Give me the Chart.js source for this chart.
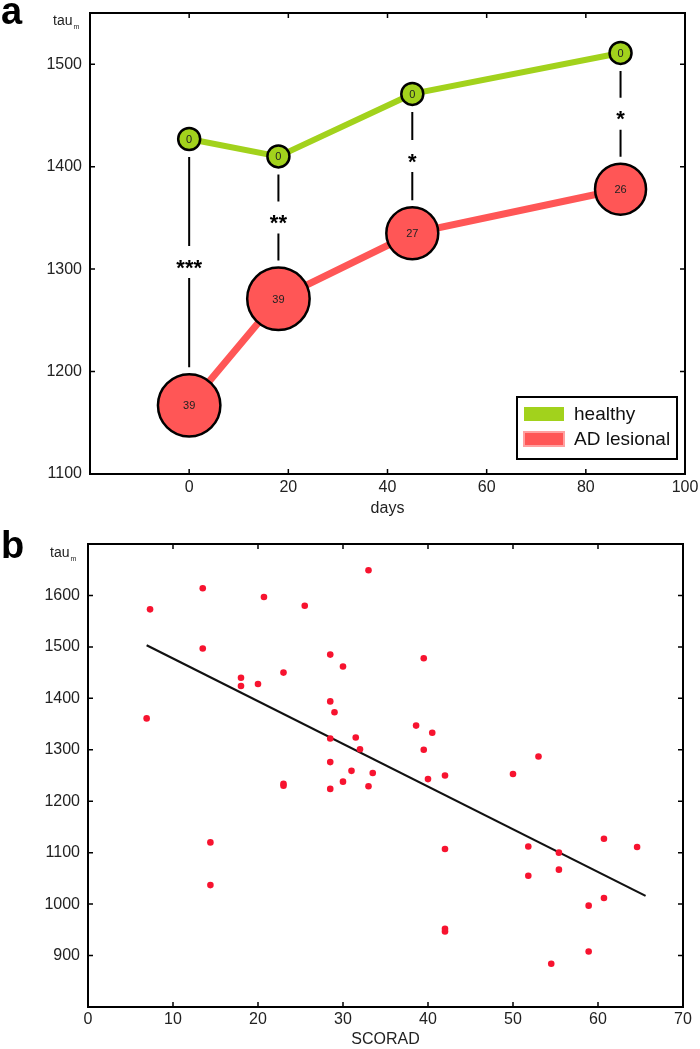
<!DOCTYPE html>
<html>
<head>
<meta charset="utf-8">
<script src="https://cdn.jsdelivr.net/npm/chart.js@4/dist/chart.umd.min.js"></script>
<style>
  body { margin: 0; background: #fff; width: 700px; height: 1049px; position: relative; overflow: hidden; }
  canvas { position: absolute; left: 0; }
  #chartA { top: 0; }
  #chartB { top: 520px; }
</style>
</head>
<body>
<canvas id="chartA" width="700" height="525"></canvas>
<canvas id="chartB" width="700" height="529"></canvas>
<script>
// panel a data
const days = [0, 18, 45, 87];
const healthyTau = [1427, 1410, 1471, 1511];
const lesionalTau = [1167, 1271, 1335, 1378];
const healthyN = [0, 0, 0, 0];
const lesionalN = [39, 39, 27, 26];
const stars = ['***', '**', '*', '*'];
const dayTicks = [0, 20, 40, 60, 80, 100];
const tauTicksA = [1100, 1200, 1300, 1400, 1500];

// panel b data
const scorad = [7.3, 13.5, 20.7, 25.5, 13.5, 28.5, 30, 18, 18, 20, 23, 28.5, 29, 6.9, 28.5, 28.5, 31,
  33, 39.5, 38.6, 40.5, 31.5, 32, 39.5, 53, 33.5, 40, 42, 50, 23, 23, 28.5, 30, 14.4, 14.4, 33,
  42, 51.8, 60.7, 64.6, 55.4, 55.4, 51.8, 60.7, 58.9, 42, 42, 58.9, 54.5];
const tauB = [1573, 1614, 1597, 1580, 1497, 1485, 1462, 1440, 1424, 1428, 1450, 1394, 1373, 1361, 1322, 1276, 1259,
  1649, 1478, 1347, 1333, 1324, 1301, 1300, 1287, 1255, 1243, 1250, 1253, 1234, 1230, 1224, 1238, 1120, 1037, 1229,
  1107, 1112, 1127, 1111, 1100, 1067, 1055, 1012, 997, 952, 947, 908, 884];
const fitX = [6.9, 65.6];
const fitY = [1503, 1016];
const scoradTicks = [0, 10, 20, 30, 40, 50, 60, 70];
const tauTicksB = [900, 1000, 1100, 1200, 1300, 1400, 1500, 1600];

const FONT = '"Liberation Sans", Arial, Helvetica, sans-serif';
const GREEN = '#a2d21c';
const RED = '#ff5656';
const DOT = '#f7132f';

function setTicks(list) {
    return function(scale) {
        scale.ticks = list.map(v => ({ value: v }));
    };
}

// fix an axis box size and drop the label overflow padding
function fixSize(prop, size) {
    return function(scale) {
        scale[prop] = size;
        scale.paddingTop = 0;
        scale.paddingBottom = 0;
        scale.paddingLeft = 0;
        scale.paddingRight = 0;
    };
}

// frame round the plot area with inward tick marks
const framePlugin = {
    id: 'frame',
    afterDraw(chart) {
        const { ctx, chartArea: a, scales } = chart;
        const x = scales.x, y = scales.y;
        ctx.save();
        ctx.strokeStyle = '#000';
        ctx.lineWidth = 2;
        ctx.strokeRect(a.left, a.top, a.right - a.left, a.bottom - a.top);
        ctx.lineWidth = 1.5;
        ctx.beginPath();
        x.ticks.forEach(t => {
            const px = x.getPixelForValue(t.value);
            if (px <= a.left + 1 || px >= a.right - 1) return;
            ctx.moveTo(px, a.bottom); ctx.lineTo(px, a.bottom - 5);
            ctx.moveTo(px, a.top); ctx.lineTo(px, a.top + 5);
        });
        y.ticks.forEach(t => {
            const py = y.getPixelForValue(t.value);
            if (py <= a.top + 1 || py >= a.bottom - 1) return;
            ctx.moveTo(a.left, py); ctx.lineTo(a.left + 5, py);
            ctx.moveTo(a.right, py); ctx.lineTo(a.right - 5, py);
        });
        ctx.stroke();
        ctx.restore();
    }
};

// panel letter and the tau_m axis label
const panelTextPlugin = {
    id: 'panelText',
    afterDraw(chart, args, opts) {
        const ctx = chart.ctx;
        ctx.save();
        ctx.fillStyle = '#000';
        ctx.textBaseline = 'alphabetic';
        ctx.font = 'bold 38px ' + FONT;
        ctx.fillText(opts.letter, 1, opts.letterY);
        ctx.fillStyle = '#222';
        ctx.font = '14px ' + FONT;
        ctx.fillText('tau', opts.tauX, opts.tauY);
        const w = ctx.measureText('tau').width;
        ctx.font = '7px ' + FONT;
        ctx.fillText('m', opts.tauX + w + 1, opts.tauY + 4);
        ctx.restore();
    }
};

// significance bars, circle counts and legend for panel a
const annotatePlugin = {
    id: 'annotate',
    afterDatasetsDraw(chart) {
        const { ctx, scales: { x, y } } = chart;
        const hMeta = chart.getDatasetMeta(0);
        const lMeta = chart.getDatasetMeta(1);
        ctx.save();
        days.forEach((d, i) => {
            const px = x.getPixelForValue(d);
            const top = y.getPixelForValue(healthyTau[i]) + hMeta.data[i].options.radius + 7;
            const bot = y.getPixelForValue(lesionalTau[i]) - lMeta.data[i].options.radius - 7;
            const mid = (top + bot) / 2;
            ctx.strokeStyle = '#000';
            ctx.lineWidth = 2;
            ctx.beginPath();
            ctx.moveTo(px, top); ctx.lineTo(px, mid - 16);
            ctx.moveTo(px, mid + 16); ctx.lineTo(px, bot);
            ctx.stroke();
            ctx.fillStyle = '#000';
            ctx.font = 'bold 22px ' + FONT;
            ctx.textAlign = 'center';
            ctx.textBaseline = 'alphabetic';
            ctx.fillText(stars[i], px, mid + 12.5);
        });
        ctx.font = '11px ' + FONT;
        ctx.fillStyle = '#222';
        ctx.textAlign = 'center';
        ctx.textBaseline = 'middle';
        hMeta.data.forEach((p, i) => ctx.fillText(String(healthyN[i]), p.x, p.y + 1));
        lMeta.data.forEach((p, i) => ctx.fillText(String(lesionalN[i]), p.x, p.y + 1));
        ctx.restore();
    },
    afterDraw(chart) {
        const { ctx, chartArea: a } = chart;
        const bx = a.right - 168, by = a.bottom - 77;
        ctx.save();
        ctx.fillStyle = '#fff';
        ctx.fillRect(bx, by, 160, 62);
        ctx.strokeStyle = '#000';
        ctx.lineWidth = 2;
        ctx.strokeRect(bx, by, 160, 62);
        chart.data.datasets.forEach((ds, i) => {
            const sy = by + 10 + i * 25;
            ctx.fillStyle = ds.borderColor;
            ctx.fillRect(bx + 7, sy, 40, 14);
            if (i === 1) {
                ctx.strokeStyle = '#ffa0a0';
                ctx.lineWidth = 2;
                ctx.strokeRect(bx + 7, sy, 40, 14);
            }
            ctx.fillStyle = '#111';
            ctx.font = '19px ' + FONT;
            ctx.textBaseline = 'alphabetic';
            ctx.fillText(ds.label, bx + 57, sy + 13);
        });
        ctx.restore();
    }
};

const tickFont = { family: FONT, size: 16 };
const plain = v => String(v);

new Chart(document.getElementById('chartA'), {
    type: 'line',
    data: {
        datasets: [
            {
                label: 'healthy',
                data: days.map((d, i) => ({ x: d, y: healthyTau[i] })),
                borderColor: GREEN,
                backgroundColor: GREEN,
                borderWidth: 6,
                pointRadius: 11,
                pointBackgroundColor: GREEN,
                pointBorderColor: '#000',
                pointBorderWidth: 2.5
            },
            {
                label: 'AD lesional',
                data: days.map((d, i) => ({ x: d, y: lesionalTau[i] })),
                borderColor: RED,
                backgroundColor: RED,
                borderWidth: 7,
                pointRadius: ctx => 5 * Math.sqrt(lesionalN[ctx.dataIndex]),
                pointBackgroundColor: RED,
                pointBorderColor: '#000',
                pointBorderWidth: 2.5
            }
        ]
    },
    options: {
        responsive: false,
        animation: false,
        clip: false,
        layout: { autoPadding: false, padding: { left: 0, right: 15, top: 13, bottom: 0 } },
        plugins: {
            legend: { display: false },
            tooltip: { enabled: false },
            panelText: { letter: 'a', letterY: 24, tauX: 53, tauY: 25 }
        },
        scales: {
            x: {
                type: 'linear',
                min: -20,
                max: 100,
                afterBuildTicks: setTicks(dayTicks),
                afterFit: fixSize('height', 51),
                grid: { display: false, drawTicks: false },
                border: { display: false },
                ticks: { font: tickFont, color: '#222', padding: 4, maxRotation: 0, callback: plain },
                title: { display: true, text: 'days', font: { family: FONT, size: 16 }, color: '#222', padding: { top: 0, bottom: 7 } }
            },
            y: {
                min: 1100,
                max: 1550,
                afterBuildTicks: setTicks(tauTicksA),
                afterFit: fixSize('width', 90),
                grid: { display: false, drawTicks: false },
                border: { display: false },
                ticks: { font: tickFont, color: '#222', padding: 8, callback: plain }
            }
        }
    },
    plugins: [annotatePlugin, framePlugin, panelTextPlugin]
});

new Chart(document.getElementById('chartB'), {
    type: 'scatter',
    data: {
        datasets: [
            {
                label: 'patients',
                data: scorad.map((s, i) => ({ x: s, y: tauB[i] })),
                pointRadius: 3.3,
                pointBackgroundColor: DOT,
                pointBorderWidth: 0,
                borderColor: DOT
            },
            {
                type: 'line',
                label: 'fit',
                data: fitX.map((s, i) => ({ x: s, y: fitY[i] })),
                borderColor: '#111',
                borderWidth: 2.2,
                pointRadius: 0
            }
        ]
    },
    options: {
        responsive: false,
        animation: false,
        layout: { autoPadding: false, padding: { left: 0, right: 17, top: 24, bottom: 0 } },
        plugins: {
            legend: { display: false },
            tooltip: { enabled: false },
            panelText: { letter: 'b', letterY: 38, tauX: 50, tauY: 37 }
        },
        scales: {
            x: {
                type: 'linear',
                min: 0,
                max: 70,
                afterBuildTicks: setTicks(scoradTicks),
                afterFit: fixSize('height', 42),
                grid: { display: false, drawTicks: false },
                border: { display: false },
                ticks: { font: tickFont, color: '#222', padding: 3, maxRotation: 0, callback: plain },
                title: { display: true, text: 'SCORAD', font: { family: FONT, size: 16 }, color: '#222', padding: { top: 0, bottom: 0 } }
            },
            y: {
                min: 800,
                max: 1700,
                afterBuildTicks: setTicks(tauTicksB),
                afterFit: fixSize('width', 88),
                grid: { display: false, drawTicks: false },
                border: { display: false },
                ticks: { font: tickFont, color: '#222', padding: 8, callback: plain }
            }
        }
    },
    plugins: [framePlugin, panelTextPlugin]
});
</script>
</body>
</html>
